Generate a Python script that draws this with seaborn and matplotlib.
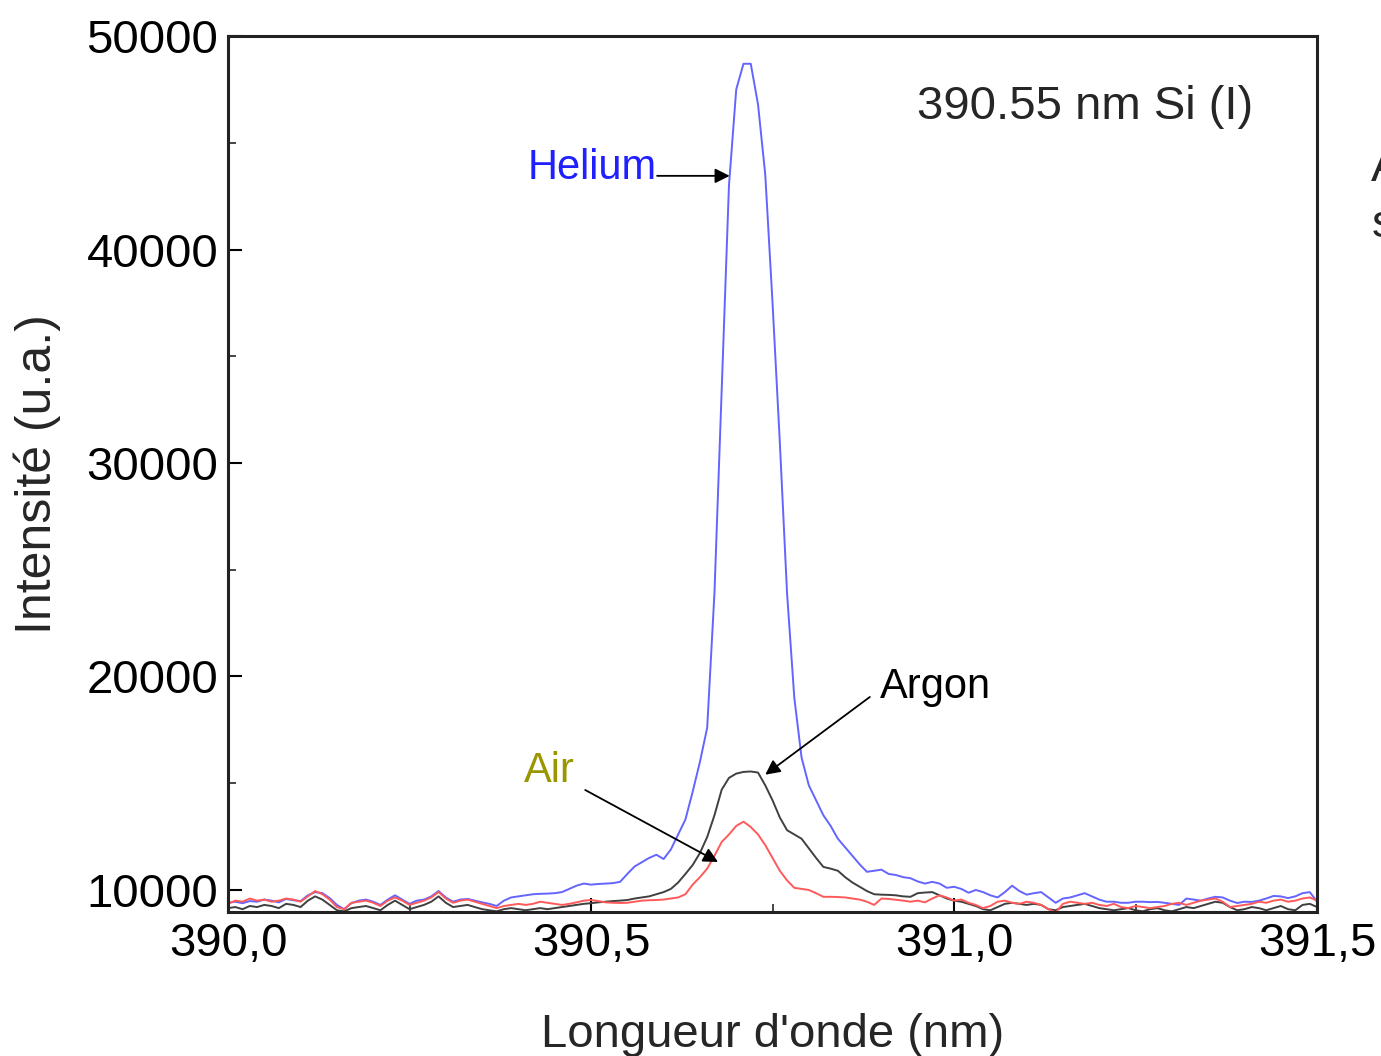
import numpy as np
import pandas as pd
import matplotlib
matplotlib.use("Agg")
import matplotlib.pyplot as plt
import seaborn as sns
from matplotlib.ticker import MultipleLocator

# Wavelength grid (nm), 0.01 nm step from 390.00 to 391.50
wl_start, wl_step, n_points = 390.0, 0.01, 151

helium = [
    9400, 9450, 9380, 9480, 9450, 9550, 9500, 9420, 9580, 9520,
    9480, 9750, 9900, 9850, 9620, 9300, 9100, 9380, 9500, 9550,
    9450, 9300, 9550, 9750, 9550, 9350, 9500, 9550, 9700, 9950,
    9650, 9450, 9550, 9580, 9500, 9420, 9350, 9250, 9500, 9650,
    9700, 9750, 9800, 9820, 9830, 9850, 9900, 10050, 10200, 10300,
    10250, 10280, 10300, 10320, 10380, 10750, 11100, 11300, 11500, 11650,
    11450, 11900, 12600, 13300, 14600, 16000, 17600, 23900, 33500, 43000,
    47500, 48700, 48700, 46800, 43500, 37500, 31000, 23900, 19000, 16200,
    14900, 14200, 13500, 13000, 12400, 12000, 11600, 11200, 10850, 10900,
    10950, 10750, 10700, 10600, 10550, 10400, 10300, 10380, 10300, 10100,
    10150, 10050, 9870, 10000, 9900, 9750, 9650, 9900, 10200, 9950,
    9780, 9850, 9900, 9650, 9400, 9600, 9650, 9750, 9850, 9700,
    9550, 9450, 9450, 9400, 9400, 9450, 9450, 9430, 9440, 9400,
    9350, 9300, 9600, 9550, 9500, 9600, 9680, 9650, 9500, 9390,
    9450, 9440, 9500, 9600, 9720, 9700, 9620, 9700, 9850, 9900,
    9450,
]

argon = [
    9150, 9200, 9100, 9250, 9200, 9300, 9250, 9150, 9350, 9300,
    9200, 9500, 9700, 9550, 9300, 9050, 9000, 9150, 9200, 9250,
    9150, 9050, 9300, 9500, 9300, 9100, 9200, 9300, 9450, 9700,
    9400, 9200, 9250, 9300, 9200, 9100, 9050, 9000, 9100, 9150,
    9100, 9050, 9100, 9150, 9100, 9150, 9200, 9250, 9300, 9350,
    9380, 9420, 9450, 9480, 9500, 9530, 9600, 9650, 9700, 9800,
    9900, 10050, 10350, 10750, 11170, 11730, 12480, 13500, 14700, 15250,
    15450, 15530, 15550, 15500, 14900, 14200, 13400, 12800, 12600, 12400,
    11950, 11500, 11080, 11000, 10900, 10600, 10350, 10150, 9950, 9800,
    9780, 9770, 9750, 9700, 9680, 9850, 9880, 9900, 9750, 9600,
    9500, 9450, 9350, 9250, 9100, 9050, 9200, 9350, 9400, 9350,
    9300, 9350, 9300, 9100, 9050, 9200, 9250, 9300, 9350, 9250,
    9150, 9100, 9050, 9100, 9150, 9050, 9000, 9100, 9150, 9050,
    9000, 9100, 9200, 9150, 9250, 9350, 9450, 9400, 9200, 9050,
    9100, 9200, 9150, 9050, 9150, 9250, 9100, 9050, 9300, 9350,
    9200,
]

air = [
    9350, 9500, 9450, 9600, 9500, 9550, 9450, 9500, 9600, 9550,
    9450, 9700, 9950, 9800, 9550, 9200, 9100, 9400, 9450, 9500,
    9400, 9250, 9500, 9650, 9500, 9300, 9400, 9500, 9650, 9900,
    9600, 9400, 9500, 9550, 9450, 9350, 9250, 9150, 9250, 9300,
    9350, 9300, 9350, 9450, 9400, 9350, 9300, 9350, 9420, 9500,
    9530, 9480, 9420, 9400, 9390, 9400, 9450, 9500, 9520, 9530,
    9550, 9600, 9650, 9800, 10250, 10600, 11000, 11600, 12250, 12600,
    13000, 13200, 12950, 12600, 12100, 11500, 10900, 10450, 10100, 10050,
    10000, 9850, 9680, 9680, 9670, 9650, 9600, 9550, 9450, 9300,
    9600, 9580, 9540, 9500, 9450, 9500, 9420, 9600, 9750, 9650,
    9500, 9550, 9400, 9300, 9150, 9250, 9450, 9500, 9400, 9350,
    9450, 9400, 9300, 9100, 8950, 9350, 9450, 9400, 9350, 9400,
    9300, 9250, 9350, 9200, 9150, 9250, 9200, 9150, 9200, 9250,
    9350, 9400, 9300, 9400, 9500, 9550, 9600, 9450, 9200, 9250,
    9300, 9350, 9450, 9400, 9500, 9550, 9450, 9500, 9600, 9650,
    9500,
]

gases = ["Helium", "Argon", "Air"]
line_colors = {"Helium": "#6464ff", "Argon": "#404040", "Air": "#ff5a5a"}

x_ticks = [390.0, 390.5, 391.0, 391.5]
x_tick_labels = ["390,0", "390,5", "391,0", "391,5"]
y_ticks = [10000, 20000, 30000, 40000, 50000]

wavelength = np.round(wl_start + wl_step * np.arange(n_points), 3)
df = pd.concat(
    [pd.DataFrame({"wavelength": wavelength, "intensity": vals, "gas": g})
     for g, vals in zip(gases, [helium, argon, air])],
    ignore_index=True,
)

sns.set_style("ticks")
plt.rcParams["font.family"] = ["Liberation Sans", "DejaVu Sans"]

fig = plt.figure(figsize=(13.81, 10.56), dpi=100)
ax = fig.add_axes([0.1651, 0.1364, 0.7886, 0.8295])

sns.lineplot(data=df, x="wavelength", y="intensity", hue="gas",
             hue_order=gases, palette=line_colors, linewidth=1.4,
             legend=False, ax=ax, sort=False)

ax.set_xlim(390.0, 391.5)
ax.set_ylim(8970, 50000)
ax.set_xticks(x_ticks)
ax.set_xticklabels(x_tick_labels)
ax.set_yticks(y_ticks)
ax.xaxis.set_minor_locator(MultipleLocator(0.25))
ax.yaxis.set_minor_locator(MultipleLocator(5000))
ax.tick_params(axis="both", which="major", direction="in", length=10,
               width=1.5, labelsize=34, pad=7, colors="black")
ax.tick_params(axis="both", which="minor", direction="in", length=6,
               width=1.2)
for s in ax.spines.values():
    s.set_linewidth(2.2)
    s.set_color("#222222")

ax.set_xlabel("Longueur d'onde (nm)", fontsize=34, labelpad=34)
ax.set_ylabel("Intensité (u.a.)", fontsize=36, labelpad=18)

ax.text(0.941, 0.919, "390.55 nm Si (I)", transform=ax.transAxes,
        ha="right", va="center", fontsize=34)

arrow = dict(arrowstyle="-|>", color="black", lw=1.3, mutation_scale=22,
             shrinkA=0, shrinkB=0)

ax.text(390.591, 43800, "Helium", color="#2020ff", fontsize=30,
        ha="right", va="center")
ax.annotate("", xy=(390.691, 43450), xytext=(390.591, 43450),
            arrowprops=arrow)

ax.text(390.898, 19500, "Argon", color="black", fontsize=30,
        ha="left", va="center")
ax.annotate("", xy=(390.740, 15400), xytext=(390.884, 19040),
            arrowprops=arrow)

ax.text(390.478, 15550, "Air", color="#9a9600", fontsize=30,
        ha="right", va="center")
ax.annotate("", xy=(390.675, 11310), xytext=(390.492, 14683),
            arrowprops=arrow)

fig.text(0.993, 0.84, "A", fontsize=34, ha="left", va="center")
fig.text(0.993, 0.787, "s", fontsize=34, ha="left", va="center")

fig.savefig("out.png", dpi=100, facecolor="white")
